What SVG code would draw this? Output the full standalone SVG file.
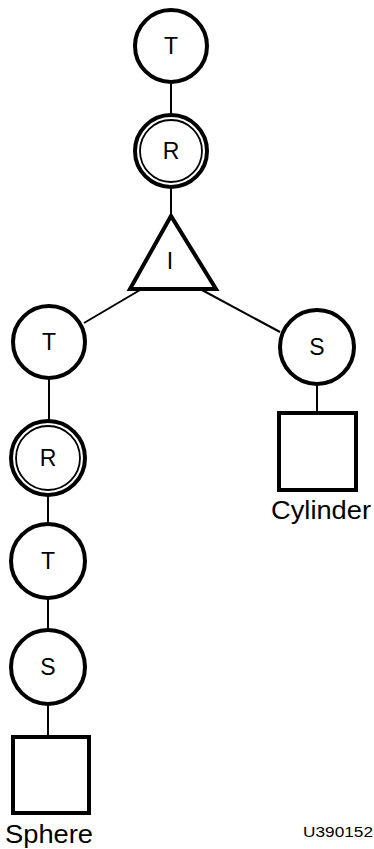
<svg xmlns="http://www.w3.org/2000/svg" width="374" height="849" viewBox="0 0 374 849">
<style>
.n{fill:#fff;stroke:#000;stroke-width:4}
.in{fill:none;stroke:#000;stroke-width:1.8}
.c{stroke:#000;stroke-width:2;fill:none}
.t{font-family:"Liberation Sans",Arial,sans-serif;font-size:23px;text-anchor:middle;fill:#000}
.l{font-family:"Liberation Sans",Arial,sans-serif;font-size:25px;text-anchor:middle;fill:#000}
</style>
<rect width="374" height="849" fill="#fff"/>
<g id="connectors">
<line class="c" x1="171" y1="82" x2="171" y2="113"/>
<line class="c" x1="171" y1="189" x2="171" y2="216"/>
<line class="c" x1="140" y1="290" x2="84" y2="323"/>
<line class="c" x1="202" y1="290" x2="280" y2="332"/>
<line class="c" x1="49" y1="379" x2="49" y2="420"/>
<line class="c" x1="48" y1="496" x2="48" y2="523"/>
<line class="c" x1="48" y1="599" x2="48" y2="630"/>
<line class="c" x1="48" y1="705" x2="48" y2="737"/>
<line class="c" x1="317" y1="385" x2="317" y2="413"/>
</g>
<g id="t1"><circle class="n" cx="171" cy="46" r="36"/><text class="t" x="171" y="54">T</text></g>
<g id="r1"><circle class="n" cx="171" cy="151" r="36" stroke-width="5"/><circle class="in" cx="171" cy="151" r="31"/><text class="t" x="171" y="159">R</text></g>
<g id="i1"><polygon class="n" points="171,216 130,289 216,289" stroke-width="5"/><text class="t" x="170" y="269">I</text></g>
<g id="t2"><circle class="n" cx="49" cy="342" r="36"/><text class="t" x="49" y="350">T</text></g>
<g id="r2"><circle class="n" cx="48" cy="458" r="37" stroke-width="5"/><circle class="in" cx="48" cy="458" r="32"/><text class="t" x="48" y="466">R</text></g>
<g id="t3"><circle class="n" cx="48" cy="561" r="37"/><text class="t" x="48" y="569">T</text></g>
<g id="s1"><circle class="n" cx="48" cy="667" r="37"/><text class="t" x="48" y="675">S</text></g>
<g id="sphere"><rect class="n" x="13" y="737" width="76" height="76"/><text class="l" x="49" y="843" textLength="88" lengthAdjust="spacingAndGlyphs">Sphere</text></g>
<g id="s2"><circle class="n" cx="317" cy="347" r="37"/><text class="t" x="317" y="355">S</text></g>
<g id="cylinder"><rect class="n" x="279" y="413" width="77" height="77"/><text class="l" x="321" y="519" textLength="100" lengthAdjust="spacingAndGlyphs">Cylinder</text></g>
<text x="338" y="837" font-family="'Liberation Sans',Arial,sans-serif" font-size="15" text-anchor="middle" textLength="70" lengthAdjust="spacingAndGlyphs">U390152</text>
</svg>
